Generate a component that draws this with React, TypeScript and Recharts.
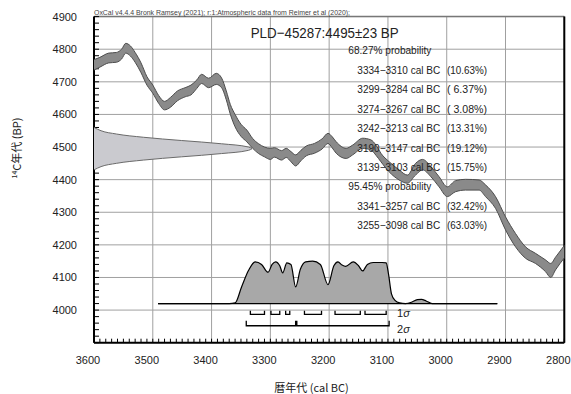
import React from "react";
import { ComposedChart, Area, Line, XAxis, YAxis, CartesianGrid, ReferenceLine } from "recharts";

// calibration curve band (cal BC -> 14C BP), upper and lower edge
const calYears = [3600, 3590, 3575, 3562, 3553, 3546, 3538, 3530, 3520, 3510, 3500, 3490, 3480, 3470, 3458, 3445, 3435, 3425, 3417, 3405, 3392, 3383, 3375, 3368, 3360, 3350, 3340, 3330, 3320, 3310, 3300, 3293, 3281, 3273, 3265, 3257, 3248, 3239, 3225, 3212, 3202, 3195, 3188, 3171, 3160, 3143, 3129, 3120, 3112, 3098, 3081, 3067, 3053, 3041, 3027, 3013, 2999, 2985, 2968, 2945, 2934, 2917, 2900, 2883, 2866, 2849, 2832, 2823, 2815, 2800];
const curveHigh = [4768, 4775, 4788, 4790, 4800, 4818, 4810, 4790, 4758, 4716, 4690, 4658, 4640, 4652, 4672, 4682, 4690, 4706, 4723, 4711, 4726, 4712, 4672, 4630, 4600, 4570, 4552, 4526, 4510, 4500, 4496, 4498, 4489, 4496, 4486, 4476, 4490, 4503, 4511, 4525, 4542, 4532, 4516, 4496, 4506, 4527, 4522, 4505, 4481, 4455, 4430, 4414, 4450, 4462, 4440, 4409, 4378, 4397, 4401, 4399, 4384, 4348, 4286, 4235, 4194, 4174, 4154, 4143, 4162, 4198];
const curveLow = [4736, 4745, 4758, 4760, 4770, 4788, 4779, 4760, 4728, 4690, 4665, 4634, 4614, 4622, 4642, 4654, 4660, 4680, 4695, 4682, 4692, 4682, 4645, 4600, 4562, 4533, 4516, 4496, 4480, 4470, 4462, 4469, 4460, 4468, 4455, 4442, 4458, 4473, 4481, 4494, 4511, 4498, 4481, 4465, 4476, 4496, 4491, 4474, 4455, 4424, 4399, 4389, 4414, 4430, 4409, 4378, 4348, 4363, 4368, 4368, 4348, 4312, 4246, 4194, 4159, 4143, 4118, 4100, 4123, 4160];

// calibrated probability, drawn on a baseline in BP units
const PROB_BASE = 4020;
const probYears = [3491, 3370, 3360, 3349, 3337, 3326, 3315, 3304, 3297, 3291, 3284, 3279, 3272, 3265, 3257, 3249, 3240, 3228, 3215, 3202, 3192, 3185, 3178, 3172, 3159, 3150, 3143, 3135, 3125, 3110, 3103, 3099, 3094, 3088, 3080, 3070, 3060, 3050, 3043, 3035, 3025, 2914];
const probTop = [4020, 4020, 4022, 4071, 4122, 4148, 4140, 4116, 4140, 4148, 4136, 4114, 4145, 4140, 4071, 4125, 4148, 4150, 4140, 4078, 4136, 4148, 4138, 4134, 4148, 4136, 4120, 4140, 4146, 4146, 4145, 4110, 4050, 4030, 4022, 4020, 4024, 4032, 4033, 4028, 4020, 4020];

// radiocarbon date 4495±23, its sideways distribution read as upper/lower edge
const dateYears = [3600, 3588, 3562, 3516, 3451, 3383, 3337, 3331];
const dateUpper = [4560, 4550, 4540, 4530, 4520, 4510, 4500, 4495];
const dateLower = [4430, 4440, 4450, 4460, 4470, 4480, 4490, 4495];

const sigma1 = [[3334, 3310], [3299, 3284], [3274, 3267], [3242, 3213], [3190, 3147], [3139, 3103]];
const sigma2 = [[3341, 3257], [3255, 3098]];

const X_MIN = 2800;
const X_MAX = 3600;
const Y_MIN = 3900;
const Y_MAX = 4900;
const xTicks = [3600, 3500, 3400, 3300, 3200, 3100, 3000, 2900, 2800];
const yTicks = [4000, 4100, 4200, 4300, 4400, 4500, 4600, 4700, 4800, 4900];

const legendRows = [
  { head: "68.27% probability" },
  { range: "3334−3310 cal BC", pct: "(10.63%)" },
  { range: "3299−3284 cal BC", pct: "( 6.37%)" },
  { range: "3274−3267 cal BC", pct: "( 3.08%)" },
  { range: "3242−3213 cal BC", pct: "(13.31%)" },
  { range: "3190−3147 cal BC", pct: "(19.12%)" },
  { range: "3139−3103 cal BC", pct: "(15.75%)" },
  { head: "95.45% probability" },
  { range: "3341−3257 cal BC", pct: "(32.42%)" },
  { range: "3255−3098 cal BC", pct: "(63.03%)" },
];

const S1_TOP = 3998;
const S1_BOT = 3987;
const S2_TOP = 3967;
const S2_BOT = 3952;

type Pt = { year: number; v: number | null };

const curveRows = calYears.map((year, i) => ({ year, band: [curveLow[i], curveHigh[i]] }));
const probRows = probYears.map((year, i) => ({ year, prob: [PROB_BASE, probTop[i]] }));
const dateRows = dateYears.map((year, i) => ({ year, date: [dateLower[i], dateUpper[i]] }));

function bracketRows(ranges: number[][], top: number, bot: number) {
  const rows: Pt[] = [];
  ranges.forEach(([a, b]) => {
    rows.push({ year: a, v: top }, { year: a, v: bot }, { year: b, v: bot }, { year: b, v: top }, { year: b, v: null });
  });
  return rows;
}
const s1Rows = bracketRows(sigma1, S1_TOP, S1_BOT);
const s2Rows = bracketRows(sigma2, S2_TOP, S2_BOT);

// every 10 years / 20 BP get a small inner tick, the hundreds get labels and grid lines
const minorX: number[] = [];
for (let t = X_MIN; t <= X_MAX; t += 10) minorX.push(t);
const minorY: number[] = [];
for (let t = Y_MIN; t <= Y_MAX; t += 20) minorY.push(t);
const xLabel = (v: number) => (xTicks.includes(v) ? String(v) : "");
const yLabel = (v: number) => (yTicks.includes(v) ? String(v) : "");

const FONT = "'Liberation Sans', Arial, sans-serif";
const tickStyle = { fontSize: 11, fill: "#222", fontFamily: FONT };
const layer = { position: "absolute" as const, left: 0, top: 0 };

export default function App() {
  return (
    <div style={{ position: "absolute", left: 0, top: 0, width: 571, height: 394 }}>
      {/* frame, grid, axes and the sigma brackets */}
      <div style={layer}>
        <ComposedChart width={571} height={394} margin={{ top: 16.6, right: 6.7, bottom: 21.3, left: 34 }}>
          <CartesianGrid stroke="#a0a0a0" horizontalValues={yTicks} verticalValues={xTicks} />
          <XAxis dataKey="year" type="number" domain={[X_MIN, X_MAX]} reversed ticks={minorX} interval={0}
            tickFormatter={xLabel} height={30} tickSize={-4} tickMargin={17} tick={{ ...tickStyle, dx: -6 }}
            stroke="#000" axisLine={{ stroke: "#000", strokeWidth: 2 }} />
          <YAxis type="number" domain={[Y_MIN, Y_MAX]} ticks={minorY} interval={0}
            tickFormatter={yLabel} width={60} tickSize={-5} tickMargin={22} tick={tickStyle}
            stroke="#000" axisLine={{ stroke: "#000", strokeWidth: 2 }} />
          <ReferenceLine y={Y_MAX} stroke="#777" strokeWidth={1.5} />
          <ReferenceLine x={X_MIN} stroke="#000" strokeWidth={2} />
          <Line data={s1Rows} dataKey="v" type="linear" stroke="#000" strokeWidth={1.3} dot={false} activeDot={false}
            connectNulls={false} isAnimationActive={false} />
          <Line data={s2Rows} dataKey="v" type="linear" stroke="#000" strokeWidth={1.3} dot={false} activeDot={false}
            connectNulls={false} isAnimationActive={false} />
        </ComposedChart>
      </div>

      {/* filled series on the same scales, transparent background */}
      <div style={layer}>
        <ComposedChart width={571} height={394} margin={{ top: 16.6, right: 6.7, bottom: 51.3, left: 94 }}>
          <XAxis dataKey="year" type="number" domain={[X_MIN, X_MAX]} reversed hide />
          <YAxis type="number" domain={[Y_MIN, Y_MAX]} hide />
          <Area data={dateRows} dataKey="date" type="monotone" fill="#cacacf" fillOpacity={1} stroke="#6a6a6a"
            strokeWidth={1} dot={false} activeDot={false} isAnimationActive={false} />
          <Area data={curveRows} dataKey="band" type="monotone" fill="#8a8a8a" fillOpacity={1} stroke="#4d4d4d"
            strokeWidth={1} dot={false} activeDot={false} isAnimationActive={false} />
          <Area data={probRows} dataKey="prob" type="monotone" fill="#a8a8a8" fillOpacity={1} stroke="#000"
            strokeWidth={1.2} dot={false} activeDot={false} isAnimationActive={false} />
        </ComposedChart>
      </div>

      <svg width={571} height={394} style={{ position: "absolute", left: 0, top: 0, pointerEvents: "none" }}>
        <text x={94} y={14.8} fontSize={7} fill="#444" fontFamily={FONT} textLength={256} lengthAdjust="spacingAndGlyphs">
          OxCal v4.4.4 Bronk Ramsey (2021); r:1:Atmospheric data from Reimer et al (2020);
        </text>
        <text x={250.7} y={38.3} fontSize={15} fill="#222" fontFamily={FONT} textLength={148} lengthAdjust="spacingAndGlyphs">
          PLD−45287:4495±23 BP
        </text>
        {legendRows.map((r, i) => {
          const y = 54.2 + i * 19.47;
          return r.head ? (
            <text key={i} x={348.3} y={y} fontSize={10} fill="#222" fontFamily={FONT} textLength={83} lengthAdjust="spacingAndGlyphs">
              {r.head}
            </text>
          ) : (
            <g key={i}>
              <text x={357.3} y={y} fontSize={10.5} fill="#222" fontFamily={FONT} textLength={83} lengthAdjust="spacingAndGlyphs">
                {r.range}
              </text>
              <text x={447} y={y} fontSize={10.5} fill="#222" fontFamily={FONT} textLength={40} lengthAdjust="spacingAndGlyphs">
                {r.pct}
              </text>
            </g>
          );
        })}
        <text x={397} y={317.3} fontSize={11} fill="#222" fontFamily={FONT}>
          1<tspan fontStyle="italic">σ</tspan>
        </text>
        <text x={397} y={332.6} fontSize={11} fill="#222" fontFamily={FONT}>
          2<tspan fontStyle="italic">σ</tspan>
        </text>
        <text transform="translate(20.7,148) rotate(-90)" textAnchor="middle" fontSize={11} fill="#222"
          fontFamily="'Noto Sans CJK JP', sans-serif">
          <tspan fontSize={7} dy={-4}>14</tspan>
          <tspan dy={4}>C年代 (BP)</tspan>
        </text>
        <text x={311.5} y={391.5} textAnchor="middle" fontSize={11} fill="#222" fontFamily="'Noto Sans CJK JP', sans-serif">
          暦年代 (cal BC)
        </text>
      </svg>
    </div>
  );
}
